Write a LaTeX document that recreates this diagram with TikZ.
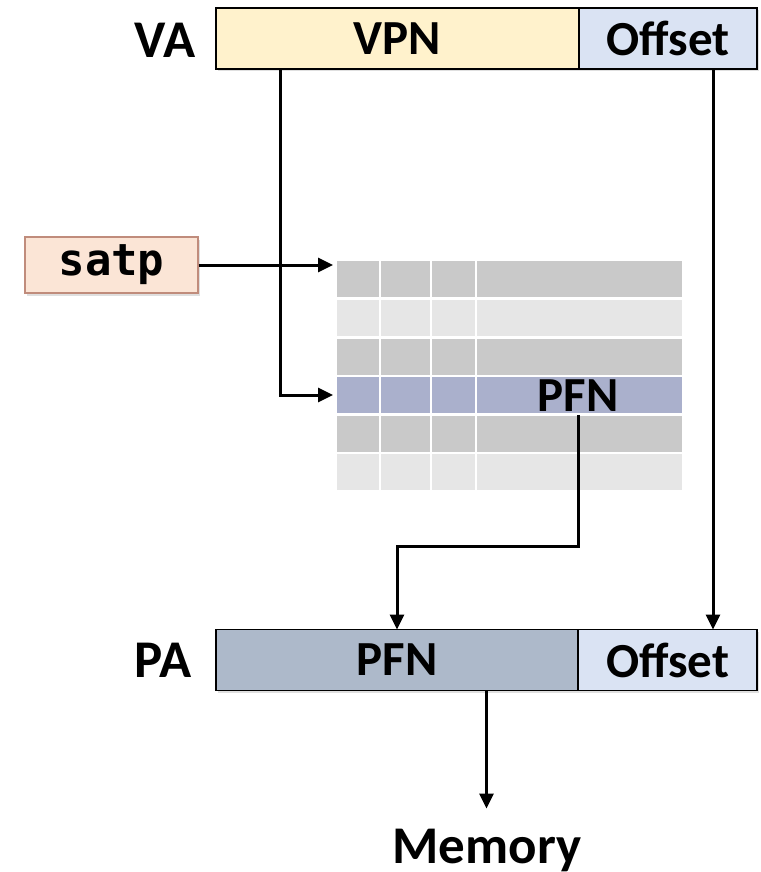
\documentclass[tikz,border=0pt]{standalone}
\usepackage{fontspec}
\setmainfont{Carlito}
\newfontfamily\monob{DejaVu Sans Mono}
\usetikzlibrary{arrows.meta,shadows,calc}
\definecolor{vpnfill}{HTML}{FFF2CC}
\definecolor{offfill}{HTML}{DAE3F3}
\definecolor{pfnfill}{HTML}{ADB9CA}
\definecolor{satpfill}{HTML}{FBE5D6}
\definecolor{satpdraw}{HTML}{C08C7C}
\definecolor{rowdark}{HTML}{C9C9C9}
\definecolor{rowlight}{HTML}{E6E6E6}
\definecolor{rowblue}{HTML}{AAB0CC}
\tikzset{
  field/.style={draw=black, line width=1.8pt, minimum height=61pt, inner sep=0pt, outer sep=0pt,
    font=\fontsize{49}{52}\selectfont\bfseries,
    drop shadow={shadow xshift=1.5pt, shadow yshift=-2.5pt, opacity=0.25}},
  lbl/.style={font=\fontsize{53}{56}\selectfont\bfseries, inner sep=0pt},
  cell/.style={fill=#1, inner sep=0pt, outer sep=0pt, minimum height=36pt},
  arr/.style={line width=3pt, -{Triangle[length=15pt,width=14pt]}},
}
\begin{document}
\begin{tikzpicture}[x=1pt,y=-1pt]
\useasboundingbox (0,0) rectangle (760,872);
% VA bar
\node[field, fill=vpnfill, minimum width=363pt] (vpn) at (397.5,38.5) {VPN};
\node[field, fill=offfill, minimum width=178pt] (voff) at (668,38.5) {Offset};
\node[lbl] (va) at (165,40) {VA};
% satp
\node[draw=satpdraw, line width=1.4pt, fill=satpfill, minimum width=173pt, minimum height=56pt,
  inner sep=0pt, font=\fontsize{44}{48}\selectfont\monob\bfseries,
  drop shadow={shadow xshift=1.5pt, shadow yshift=-2.5pt, opacity=0.25}] (satp) at (111.5,265) {satp};
% table
\foreach \r/\y/\c in {1/279/rowdark, 2/318/rowlight, 3/357/rowdark, 4/395/rowblue, 5/434/rowdark, 6/472/rowlight}{
  \node[cell=\c, minimum width=42pt] (c-\r-1) at (358,\y) {};
  \node[cell=\c, minimum width=49pt] (c-\r-2) at (405.5,\y) {};
  \node[cell=\c, minimum width=43pt] (c-\r-3) at (453.5,\y) {};
  \node[cell=\c, minimum width=205pt] (c-\r-4) at (579.5,\y) {};
}
\node[font=\fontsize{49}{52}\selectfont\bfseries, inner sep=0pt] (tpfn) at (578,396) {PFN};
% PA bar
\node[field, fill=pfnfill, minimum width=362pt] (ppfn) at (397,660) {PFN};
\node[field, fill=offfill, minimum width=179pt] (poff) at (667.5,660) {Offset};
\node[lbl] (pa) at (163,660) {PA};
\coordinate (pamid) at ($(ppfn.south west)!0.5!(poff.south east)$);
\node[lbl, anchor=base] (mem) at (487,863) {Memory};
% connectors
\coordinate (vdrop) at ($(vpn.south west)+(64,0)$);
\coordinate (odrop) at ($(voff.south west)+(134,0)$);
\draw[arr, shorten >=4pt] (vdrop) |- (c-4-1.west);
\draw[arr, shorten >=4pt] (satp.east) -- (satp.east -| c-1-1.west);
\draw[arr] (odrop) -- (odrop |- poff.north);
\draw[arr] ($(tpfn.south)+(0,3)$) -- ($(tpfn.south)+(0,134)$) -| (ppfn.north);
\draw[arr] (pamid) -- ++(0,118);
\end{tikzpicture}
\end{document}
